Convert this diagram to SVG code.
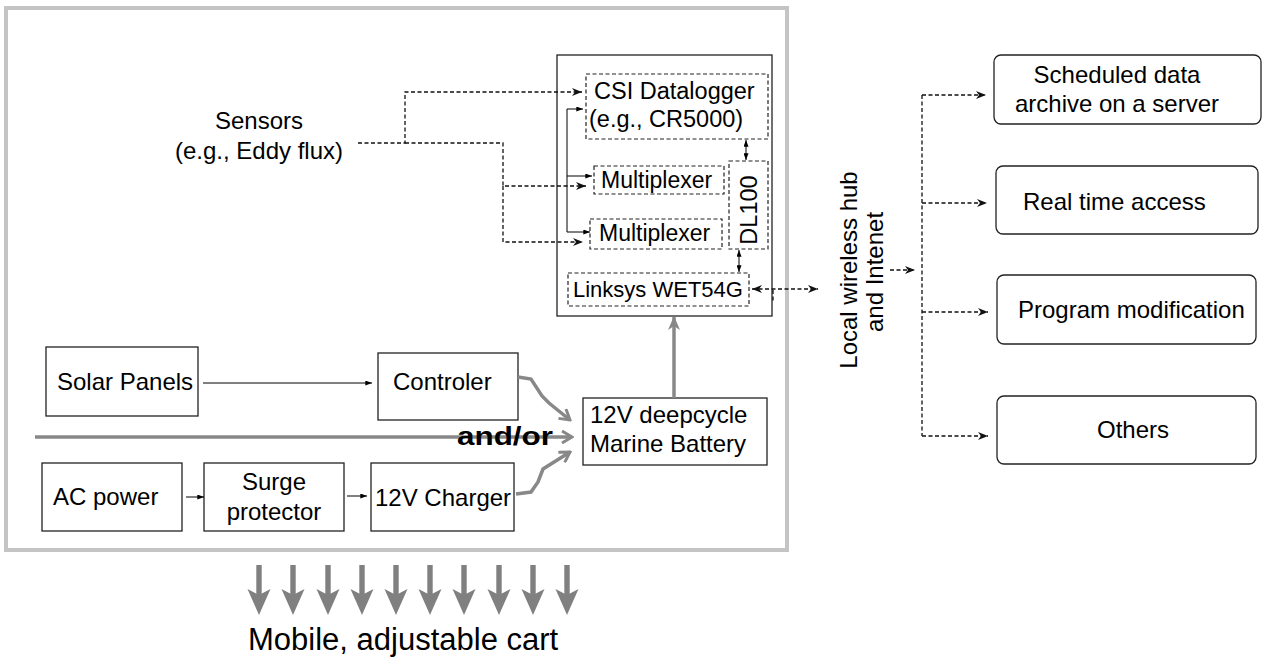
<svg xmlns="http://www.w3.org/2000/svg" xmlns:xlink="http://www.w3.org/1999/xlink" width="1263" height="660" viewBox="0 0 1263 660" font-size="24">
<style>
text{font-family:"Liberation Sans",Arial,sans-serif;fill:#000}
.box{fill:#fff;stroke:#222;stroke-width:1.3}
.dbox{fill:none;stroke:#222;stroke-width:1.2;stroke-dasharray:4 2.5}
.rbox{fill:#fff;stroke:#222;stroke-width:1.3}
.thin{fill:none;stroke:#000;stroke-width:1}
.dash{fill:none;stroke:#111;stroke-width:1.3;stroke-dasharray:4 2.5}
.gray{fill:none;stroke:#888;stroke-width:3.5}
</style>
<defs>
<marker id="sm" viewBox="0 0 8 6" refX="8" refY="3" markerWidth="7" markerHeight="5" markerUnits="userSpaceOnUse" orient="auto-start-reverse"><path d="M0,0 L8,3 L0,6 z" fill="#000"/></marker>
<marker id="da" viewBox="0 0 10 8" refX="10" refY="4" markerWidth="10" markerHeight="8" markerUnits="userSpaceOnUse" orient="auto-start-reverse"><path d="M0,0 L10,4 L0,8 L3,4 z" fill="#111"/></marker>
<marker id="ga" viewBox="0 0 14 14" refX="12" refY="7" markerWidth="14" markerHeight="14" markerUnits="userSpaceOnUse" orient="auto"><path d="M2,1 L12,7 L2,13" fill="none" stroke="#888" stroke-width="3"/></marker>
<marker id="gf" viewBox="0 0 14 14" refX="13" refY="7" markerWidth="14" markerHeight="14" markerUnits="userSpaceOnUse" orient="auto"><path d="M0,1 L14,7 L0,13 L4,7 z" fill="#888"/></marker>
<g id="down"><rect x="-2.7" y="565" width="5.4" height="30" fill="#808080"/><path d="M-11.5,589 L0,615 L11.5,589 L0,595 z" fill="#808080"/></g>
</defs>

<rect x="6" y="8" width="781" height="542" fill="none" stroke="#c4c4c4" stroke-width="4"/>

<g id="enclosure"><rect x="557" y="55" width="215" height="261" class="box" fill="none"/></g>

<g id="sensors"><text x="259" y="129" text-anchor="middle">Sensors</text><text x="259" y="159" text-anchor="middle">(e.g., Eddy flux)</text></g>

<g id="csi"><rect x="586" y="74" width="182" height="65" class="dbox"/><text x="594" y="99" font-size="23.5">CSI Datalogger</text><text x="589" y="127" font-size="23.5">(e.g., CR5000)</text></g>
<g id="mux1"><rect x="594" y="166" width="130" height="28" class="dbox"/><text x="601" y="188" font-size="23">Multiplexer</text></g>
<g id="mux2"><rect x="590" y="219" width="132" height="30" class="dbox"/><text x="599" y="241" font-size="23">Multiplexer</text></g>
<g id="dl100"><rect x="729" y="161" width="39" height="88" class="dbox"/><text transform="translate(757,210) rotate(-90)" text-anchor="middle" font-size="23.5">DL100</text></g>
<g id="linksys"><rect x="568" y="273" width="181" height="33" class="dbox"/><text x="573" y="297" font-size="22">Linksys WET54G</text></g>

<g id="hub"><text transform="translate(857,270) rotate(-90)" text-anchor="middle">Local wireless hub</text><text transform="translate(883,272) rotate(-90)" text-anchor="middle">and Intenet</text></g>

<g id="archive"><rect x="994" y="55" width="267" height="69" rx="7" class="rbox"/><text x="1117" y="83" text-anchor="middle">Scheduled data</text><text x="1117" y="112" text-anchor="middle">archive on a server</text></g>
<g id="realtime"><rect x="996" y="166" width="262" height="68" rx="7" class="rbox"/><text x="1023" y="210">Real time access</text></g>
<g id="program"><rect x="997" y="275" width="259" height="69" rx="7" class="rbox"/><text x="1018" y="318">Program modification</text></g>
<g id="others"><rect x="997" y="396" width="259" height="68" rx="7" class="rbox"/><text x="1133" y="438" text-anchor="middle">Others</text></g>

<g id="solar"><rect x="46" y="347" width="152" height="69" class="box"/><text x="57" y="390">Solar Panels</text></g>
<g id="controler"><rect x="378" y="353" width="140" height="67" class="box"/><text x="393" y="390">Controler</text></g>
<g id="ac"><rect x="42" y="463" width="140" height="68" class="box"/><text x="53" y="505">AC power</text></g>
<g id="surge"><rect x="204" y="463" width="140" height="68" class="box"/><text x="274" y="490" text-anchor="middle">Surge</text><text x="274" y="520" text-anchor="middle">protector</text></g>
<g id="charger"><rect x="371" y="463" width="143" height="68" class="box"/><text x="375" y="506">12V Charger</text></g>
<g id="battery"><rect x="583" y="398" width="184" height="67" class="box"/><text x="590" y="423">12V deepcycle</text><text x="590" y="452">Marine Battery</text></g>

<g id="connectors">
<path class="dash" d="M358,143 H405 V92 H582" marker-end="url(#da)"/>
<path class="dash" d="M405,143 H503 V186 H586" marker-end="url(#da)"/>
<path class="dash" d="M503,186 V242 H583" marker-end="url(#da)"/>
<path class="thin" d="M567,232 V109 H583" marker-end="url(#sm)"/>
<path class="thin" d="M567,176 H592" marker-end="url(#sm)"/>
<path class="thin" d="M567,232 H590" marker-end="url(#sm)"/>
<path class="thin" d="M746,140 V160" marker-start="url(#sm)" marker-end="url(#sm)"/>
<path class="thin" d="M739,250 V272" marker-start="url(#sm)" marker-end="url(#sm)"/>
<path class="dash" d="M752,289 H818" marker-start="url(#da)" marker-end="url(#da)"/>
<path class="dash" d="M773,290 V303"/>
<path class="dash" d="M890,270 H915" marker-end="url(#da)"/>
<path class="dash" d="M922,95 V436"/>
<path class="dash" d="M922,95 H986" marker-end="url(#da)"/>
<path class="dash" d="M922,203 H987" marker-end="url(#da)"/>
<path class="dash" d="M922,312 H988" marker-end="url(#da)"/>
<path class="dash" d="M922,436 H988" marker-end="url(#da)"/>
<path class="thin" d="M203,383 H372" marker-end="url(#sm)"/>
<path class="thin" d="M186,497 H204" marker-end="url(#sm)"/>
<path class="thin" d="M347,496 H367" marker-end="url(#sm)"/>
<path class="gray" d="M35,437 H572" marker-end="url(#ga)"/>
<path class="gray" d="M518,377 L531,379 L542,396 L549,403 L570,420" marker-end="url(#ga)"/>
<path class="gray" d="M516,494 L531,492 L538,482 L543,469 L570,452" marker-end="url(#ga)"/>
<path class="gray" d="M674,398 V317" marker-end="url(#gf)"/>
</g>

<text x="457" y="445" font-weight="bold" font-size="26" textLength="96" lengthAdjust="spacingAndGlyphs">and/or</text>

<g id="cart">
<use xlink:href="#down" x="259"/><use xlink:href="#down" x="293"/><use xlink:href="#down" x="328"/><use xlink:href="#down" x="362"/><use xlink:href="#down" x="396"/><use xlink:href="#down" x="430"/><use xlink:href="#down" x="464"/><use xlink:href="#down" x="499"/><use xlink:href="#down" x="533"/><use xlink:href="#down" x="567"/>
<text x="248" y="650" font-size="31">Mobile, adjustable cart</text>
</g>
</svg>
